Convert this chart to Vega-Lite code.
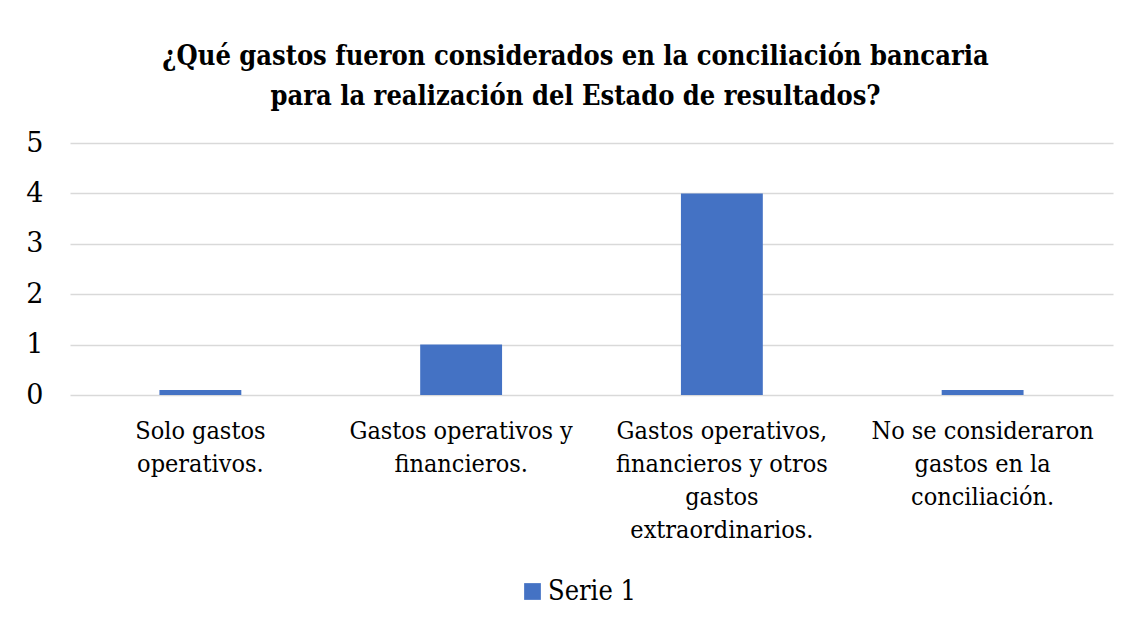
{
  "$schema": "https://vega.github.io/schema/vega-lite/v6.json",
  "width": 1043,
  "height": 252,
  "autosize": {"type": "none"},
  "padding": {"left": 70, "top": 143, "right": 18, "bottom": 229},
  "background": "white",
  "title": {
    "text": ["¿Qué gastos fueron considerados en la conciliación bancaria", "para la realización del Estado de resultados?"],
    "font": "DejaVu Serif Condensed",
    "fontSize": 27,
    "fontWeight": "bold",
    "lineHeight": 40,
    "color": "black",
    "anchor": "middle",
    "frame": "group",
    "dx": -16,
    "offset": 18
  },
  "data": {
    "values": [
      {"categoria": "Solo gastos|operativos.", "serie": "Serie 1", "valor": 0.1},
      {"categoria": "Gastos operativos y|financieros.", "serie": "Serie 1", "valor": 1},
      {"categoria": "Gastos operativos,|financieros y otros|gastos|extraordinarios.", "serie": "Serie 1", "valor": 4},
      {"categoria": "No se consideraron|gastos en la|conciliación.", "serie": "Serie 1", "valor": 0.1}
    ]
  },
  "mark": {"type": "bar", "color": "#4472C4"},
  "encoding": {
    "x": {
      "field": "categoria",
      "type": "nominal",
      "sort": null,
      "scale": {"paddingInner": 0.686, "paddingOuter": 0.343},
      "axis": {
        "title": null,
        "labelAngle": 0,
        "labelExpr": "split(datum.label, '|')",
        "labelFont": "DejaVu Serif Condensed",
        "labelFontSize": 25,
        "labelLineHeight": 33,
        "labelColor": "black",
        "labelPadding": 23,
        "labelBaseline": "top",
        "labelLimit": 0,
        "ticks": false,
        "domain": false,
        "grid": false
      }
    },
    "y": {
      "field": "valor",
      "type": "quantitative",
      "scale": {"domain": [0, 5]},
      "axis": {
        "title": null,
        "values": [0, 1, 2, 3, 4, 5],
        "labelFont": "DejaVu Serif",
        "labelFontSize": 27,
        "labelColor": "black",
        "labelPadding": 27,
        "ticks": false,
        "domain": false,
        "gridColor": "#d9d9d9",
        "gridWidth": 1.5
      }
    },
    "color": {
      "field": "serie",
      "type": "nominal",
      "scale": {"range": ["#4472C4"]},
      "legend": {
        "title": null,
        "orient": "none",
        "legendX": 449,
        "legendY": 435,
        "symbolType": "square",
        "symbolSize": 280,
        "symbolStrokeWidth": 0,
        "symbolOpacity": 1,
        "labelFont": "DejaVu Serif Condensed",
        "labelFontSize": 27,
        "labelColor": "black",
        "labelOffset": 2
      }
    }
  },
  "config": {"view": {"stroke": null}}
}
